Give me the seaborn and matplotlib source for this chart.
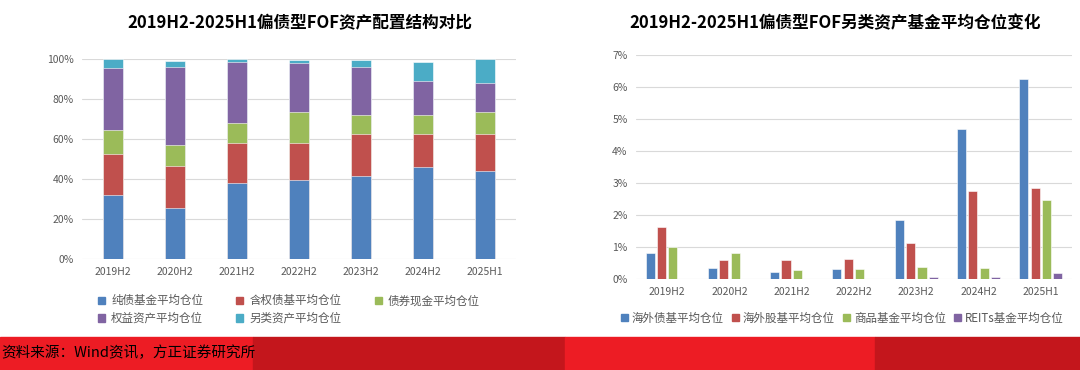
import pandas as pd
import matplotlib.pyplot as plt
import numpy as np
import seaborn as sns
from matplotlib.patches import Rectangle, Patch
from matplotlib.ticker import PercentFormatter

sns.set_style("white")
plt.rcParams['font.family'] = ['Noto Sans CJK SC', 'DejaVu Sans']

# ---------------- data ----------------
periodos = ["2019H2", "2020H2", "2021H2", "2022H2", "2023H2", "2024H2", "2025H1"]

# left chart: allocation structure (%), bottom to top
series_izq = ["纯债基金平均仓位", "含权债基平均仓位", "债券现金平均仓位", "权益资产平均仓位", "另类资产平均仓位"]
chundai = [31.9, 25.5, 38.1, 39.4, 41.4, 45.8, 43.9]
hanquan = [20.8, 20.8, 19.8, 18.8, 21.2, 16.8, 18.7]
xianjin = [11.9, 10.6, 10.0, 15.5, 9.6, 9.6, 11.1]
quanyi = [31.1, 39.3, 30.4, 24.3, 24.0, 16.8, 14.5]
linglei = [4.3, 3.0, 1.7, 1.5, 3.3, 9.5, 11.8]

# right chart: alternative assets (%)
series_der = ["海外债基平均仓位", "海外股基平均仓位", "商品基金平均仓位", "REITs基金平均仓位"]
haiwai_zhai = [0.80, 0.33, 0.23, 0.31, 1.83, 4.69, 6.26]
haiwai_gu = [1.64, 0.59, 0.58, 0.61, 1.13, 2.75, 2.83]
shangpin = [1.00, 0.80, 0.28, 0.30, 0.37, 0.33, 2.47]
reits = [0.0, 0.0, 0.0, 0.0, 0.07, 0.07, 0.18]

colores = ["#4F81BD", "#C0504D", "#9BBB59", "#8064A2", "#4BACC6"]
gris = "#595959"

fig = plt.figure(figsize=(10.8, 3.7), dpi=100)
W, H = 1080, 370

def ax_px(x0, y0, x1, y1):
    return fig.add_axes([x0 / W, 1 - y1 / H, (x1 - x0) / W, (y1 - y0) / H])

# ---------------- left: stacked bars ----------------
ax1 = ax_px(82, 59, 516, 259)
capas = [chundai, hanquan, xianjin, quanyi, linglei]
acum = np.cumsum(np.array(capas), axis=0)
for i in range(len(capas) - 1, -1, -1):
    sns.barplot(x=periodos, y=acum[i], color=colores[i], width=0.32,
                edgecolor="white", linewidth=0.4, saturation=1, ax=ax1)
ax1.set_ylim(0, 100)
ax1.set_xlim(-0.5, 6.5)
ax1.yaxis.set_major_formatter(PercentFormatter(decimals=0))
ax1.set_yticks(range(0, 101, 20))
ax1.grid(axis="y", color="#D9D9D9", linewidth=0.8)
ax1.set_axisbelow(True)
for s in ax1.spines.values():
    s.set_visible(False)
ax1.tick_params(axis="both", length=0, labelsize=7.5, colors=gris, pad=6)
# legend fills by column, so reorder to get rows like the reference
orden = [0, 3, 1, 4, 2]
handles1 = [Patch(color=colores[i]) for i in orden]
fig.legend(handles1, [series_izq[i] for i in orden], loc="upper left", bbox_to_anchor=(88 / W, 1 - 284 / H),
           ncol=3, frameon=False, fontsize=8.3, handlelength=0.6, handleheight=0.6,
           handletextpad=0.5, columnspacing=2.9, labelspacing=0.4, labelcolor=gris)
fig.text(300 / W, 1 - 23 / H, "2019H2-2025H1偏债型FOF资产配置结构对比", ha="center", va="center",
         fontsize=12, fontweight="bold", color="black")

# ---------------- right: grouped bars ----------------
ax2 = ax_px(636, 55, 1072, 279)
df = pd.DataFrame({"periodo": periodos * 4,
                   "serie": np.repeat(series_der, len(periodos)),
                   "valor": haiwai_zhai + haiwai_gu + shangpin + reits})
sns.barplot(data=df, x="periodo", y="valor", hue="serie", palette=colores[:4], width=0.73,
            gap=0.2, saturation=1, edgecolor="white", linewidth=0.4, ax=ax2, legend=False)
ax2.set_ylim(0, 7)
ax2.set_xlim(-0.5, 6.5)
ax2.set_yticks(range(0, 8))
ax2.yaxis.set_major_formatter(PercentFormatter(decimals=0))
ax2.grid(axis="y", color="#D9D9D9", linewidth=0.8)
ax2.set_axisbelow(True)
ax2.set_xlabel("")
ax2.set_ylabel("")
for s in ax2.spines.values():
    s.set_visible(False)
ax2.tick_params(axis="both", length=0, labelsize=7.5, colors=gris, pad=6)
handles2 = [Patch(color=colores[i]) for i in range(4)]
fig.legend(handles2, series_der, loc="center left", bbox_to_anchor=(611 / W, 1 - 318 / H),
           ncol=4, frameon=False, fontsize=8.3, handlelength=0.6, handleheight=0.6,
           handletextpad=0.3, columnspacing=0.75, labelcolor=gris)
fig.text(835 / W, 1 - 23 / H, "2019H2-2025H1偏债型FOF另类资产基金平均仓位变化", ha="center", va="center",
         fontsize=12, fontweight="bold", color="black")

# ---------------- footer ----------------
for x0, x1, c in [(0, 253, "#ED1C24"), (253, 565, "#C4161C"), (565, 875, "#ED1C24"), (875, 1080, "#C4161C")]:
    fig.patches.append(Rectangle((x0 / W, 0), (x1 - x0) / W, 33 / H, transform=fig.transFigure,
                                 color=c, zorder=0))
fig.text(1 / W, 1 - 353 / H, "资料来源：Wind资讯，方正证券研究所", ha="left", va="center",
         fontsize=10.5, style="italic", color="black")

fig.savefig("out.png", dpi=100)
